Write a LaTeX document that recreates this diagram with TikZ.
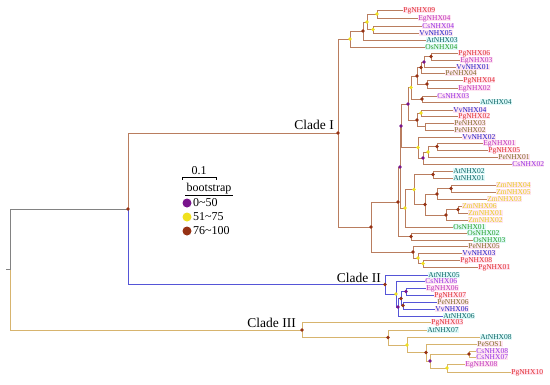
\documentclass[tikz,border=0pt]{standalone}
\usepackage{fontspec}
\setmainfont{Liberation Serif}
\usetikzlibrary{positioning}
\definecolor{pgred}{RGB}{225,45,45}
\definecolor{egmagenta}{RGB}{190,50,190}
\definecolor{csviolet}{RGB}{150,50,230}
\definecolor{vvblue}{RGB}{30,30,200}
\definecolor{atteal}{RGB}{10,100,100}
\definecolor{osgreen}{RGB}{40,160,40}
\definecolor{peolive}{RGB}{130,110,40}
\definecolor{zmyellow}{RGB}{232,208,30}
\definecolor{pinkbg}{RGB}{255,230,242}
\definecolor{cyanbg}{RGB}{225,250,250}
\definecolor{cladeIcol}{RGB}{185,125,95}
\definecolor{cladeIIcol}{RGB}{85,85,215}
\definecolor{cladeIIIcol}{RGB}{215,180,110}
\definecolor{rootgray}{RGB}{130,130,130}
\definecolor{bslow}{RGB}{120,20,140}
\definecolor{bsmid}{RGB}{240,225,30}
\definecolor{bshigh}{RGB}{150,50,20}
\tikzset{
  leaf/.style={anchor=west,inner sep=0.2pt,text height=4.6pt,text depth=0.5pt,text=#1,fill=pinkbg,font=\fontsize{7.5}{8}\selectfont},
  leafc/.style={leaf=#1,fill=cyanbg},
  cladelab/.style={anchor=south east,inner sep=1pt,font=\fontsize{13.5}{15}\selectfont},
  legtext/.style={anchor=west,inner sep=1pt,font=\fontsize{12}{14}\selectfont},
  legdot/.style={circle,fill=#1,inner sep=0pt,minimum size=9pt},
}
\begin{document}
\begin{tikzpicture}[
    x=1pt,y=-1pt,
    brI/.style={draw=cladeIcol,line width=0.6pt},
    brII/.style={draw=cladeIIcol,line width=0.6pt},
    brIII/.style={draw=cladeIIIcol,line width=0.6pt},
    brroot/.style={draw=rootgray,line width=0.6pt},
  ]
    \path[use as bounding box,fill=white] (0,0) rectangle (550,384);

    %────────── LEAVES ─────────────
    \foreach \nm/\x/\y/\col in {PgNHX09/403/10/pgred, EgNHX04/418/18/egmagenta, CsNHX04/422/26/csviolet,
        VvNHX05/419/33/vvblue, PgNHX06/458/53/pgred, EgNHX03/460/60/egmagenta, VvNHX01/456/67/vvblue,
        PeNHX04/445/73/peolive, PgNHX04/463/80/pgred, EgNHX02/458/88/egmagenta, CsNHX03/437/96/csviolet,
        VvNHX04/453/110/vvblue, PgNHX02/458/116/pgred, PeNHX03/454/123/peolive, PeNHX02/454/130/peolive,
        VvNHX02/462/137/vvblue, EgNHX01/483/143/egmagenta, PgNHX05/488/150/pgred, PeNHX01/498/157/peolive,
        CsNHX02/512/164/csviolet, ZmNHX04/496/185/zmyellow, ZmNHX05/496/192/zmyellow, ZmNHX03/487/199/zmyellow,
        ZmNHX06/462/206/zmyellow, ZmNHX01/468/213/zmyellow, ZmNHX02/468/220/zmyellow, PeNHX05/468/246/peolive,
        VvNHX03/462/253/vvblue, PgNHX08/460/260/pgred, PgNHX01/478/267/pgred,
        CsNHX06/425/281/csviolet, EgNHX06/426/288/egmagenta, PgNHX07/434/295/pgred, PeNHX06/437/302/peolive,
        VvNHX06/435/309/vvblue, PgNHX03/431/322/pgred, PeSOS1/477/344/peolive, CsNHX08/476/351/csviolet,
        CsNHX07/476/357/csviolet, EgNHX08/465/364/egmagenta, PgNHX10/511/372/pgred}
      \node[leaf=\col] (\nm) at (\x,\y) {\nm};
    \foreach \nm/\x/\y/\col in {AtNHX03/426/40/atteal, OsNHX04/425/47/osgreen, AtNHX04/480/102/atteal,
        AtNHX02/453/171/atteal, AtNHX01/453/178/atteal, OsNHX01/453/227/osgreen, OsNHX02/467/233/osgreen,
        OsNHX03/473/240/osgreen, AtNHX05/428/275/atteal, AtNHX06/443/316/atteal, AtNHX07/427/330/atteal,
        AtNHX08/480/337/atteal}
      \node[leafc=\col] (\nm) at (\x,\y) {\nm};

    %────────── INNER NODES ────────
    \foreach \nm/\x/\y in {n1a/377/14, n1b/373/29.5, n1c/367/22, n1d/363/31, n1e/350/39,
        n2a/431/56.5, n2b/424/62, n2c/421/67.5, n2d/427/84, n2e/417/76, n2f/422/99, n2g/411/87.5,
        n2h/421/113, n2i/425/126.5, n2j/417/120, n2k/408/104, n2l/437/146.5, n2m/428/152, n2o/423/158,
        n2n/418/147.5, n2p/401/126, n3a/433/174.5, n3b/451/188.5, n3c/437/194, n3d/458/209.5,
        n3e/446/215, n3f/425/204.5, n3g/414/189.5, n3h/405/208, nQ/400/167, n3i/411/236.5, nP/398/202,
        n3l/423/263.5, n3m/418/258, nS/413/252, nT/371/227, cI/338/133,
        c2a/406/291.5, c2b/403/305.5, c2c/401/298.5, c2d/398/307, c2e/396/294, cII/385/284.5,
        z1/469/354, z2/447/368, z3/430/361, z4/426/352.5, y3/407/345, x3/388/337.5, cIII/302/330,
        nA/128/209, root/10/269.5, rootstub/6/269.5}
      \coordinate (\nm) at (\x,\y);

    %────────── CLADE I ────────────
    \foreach \p/\c in {n1a/PgNHX09, n1a/EgNHX04, n1b/CsNHX04, n1b/VvNHX05, n1c/n1a, n1c/n1b,
        n1d/n1c, n1d/AtNHX03, n1e/n1d, n1e/OsNHX04,
        n2a/PgNHX06, n2a/EgNHX03, n2b/n2a, n2b/VvNHX01, n2c/n2b, n2c/PeNHX04, n2d/PgNHX04, n2d/EgNHX02,
        n2e/n2c, n2e/n2d, n2f/CsNHX03, n2f/AtNHX04, n2g/n2e, n2g/n2f, n2h/VvNHX04, n2h/PgNHX02,
        n2i/PeNHX03, n2i/PeNHX02, n2j/n2h, n2j/n2i, n2k/n2g, n2k/n2j, n2l/EgNHX01, n2l/PgNHX05,
        n2m/n2l, n2m/PeNHX01, n2o/n2m, n2o/CsNHX02, n2n/VvNHX02, n2n/n2o, n2p/n2k, n2p/n2n,
        n3a/AtNHX02, n3a/AtNHX01, n3b/ZmNHX04, n3b/ZmNHX05, n3c/n3b, n3c/ZmNHX03, n3d/ZmNHX06,
        n3d/ZmNHX01, n3e/n3d, n3e/ZmNHX02, n3f/n3c, n3f/n3e, n3g/n3a, n3g/n3f, n3h/n3g, n3h/OsNHX01,
        nQ/n2p, nQ/n3h, n3i/OsNHX02, n3i/OsNHX03, nP/nQ, nP/n3i, n3l/PgNHX08, n3l/PgNHX01,
        n3m/VvNHX03, n3m/n3l, nS/PeNHX05, nS/n3m, nT/nP, nT/nS, cI/n1e, cI/nT, nA/cI}
      \draw[brI] (\p) |- (\c);

    %────────── CLADE II ───────────
    \foreach \p/\c in {c2a/EgNHX06, c2a/PgNHX07, c2b/PeNHX06, c2b/VvNHX06, c2c/c2a, c2c/c2b,
        c2d/c2c, c2d/AtNHX06, c2e/CsNHX06, c2e/c2d, cII/AtNHX05, cII/c2e, nA/cII}
      \draw[brII] (\p) |- (\c);

    %────────── CLADE III ──────────
    \foreach \p/\c in {z1/CsNHX08, z1/CsNHX07, z2/EgNHX08, z2/PgNHX10, z3/z1, z3/z2, z4/PeSOS1, z4/z3,
        y3/AtNHX08, y3/z4, x3/AtNHX07, x3/y3, cIII/PgNHX03, cIII/x3, root/cIII}
      \draw[brIII] (\p) |- (\c);

    %────────── ROOT ───────────────
    \draw[brroot] (root) |- (nA);
    \draw[brroot] (rootstub) -- (root);

    %────────── BOOTSTRAP DOTS ─────
    \foreach \n in {n2b, n2k, n2o, n2p, nQ, c2a, c2d, z3}
      \fill[bslow] (\n) circle (1.9);
    \foreach \n in {n1a, n1b, n1c, n1e, n2g, n2h, n2m, n2n, n3g, n3h, n3l, n3m, c2e, z2, y3}
      \fill[bsmid] (\n) circle (1.9);
    \foreach \n in {n1d, n2a, n2c, n2d, n2e, n2f, n2j, n2l, n3a, n3b, n3c, n3d, n3e, n3f, n3i, nP, nS,
        nT, cI, c2b, c2c, cII, z1, z4, x3, cIII, nA}
      \fill[bshigh] (\n) circle (1.9);

    %────────── CLADE LABELS ───────
    \node[cladelab] (labI) at (335,131) {Clade I};
    \node[cladelab] (labII) at (382,283.5) {Clade II};
    \node[cladelab] (labIII) at (297,328.5) {Clade III};

    %────────── LEGEND ─────────────
    \coordinate (sbL) at (182,177);
    \coordinate (sbR) at (216,177);
    \draw[line width=0.6pt] ([yshift=-2.5]sbL) -- (sbL) -- (sbR) -- ([yshift=-2.5]sbR);
    \node[legtext,anchor=south,inner sep=1.5pt] (scale) at (199,176) {0.1};
    \node[legtext,anchor=center] (boot) at (209,189) {bootstrap};
    \draw[line width=0.5pt] (boot.south west) -- (boot.south east);
    \node[legdot=bslow] (legLow) at (187,203) {};
    \node[legdot=bsmid] (legMid) at (187,217) {};
    \node[legdot=bshigh] (legHigh) at (187,231) {};
    \node[legtext,right=0.3pt of legLow] {0\textasciitilde 50};
    \node[legtext,right=0.3pt of legMid] {51\textasciitilde 75};
    \node[legtext,right=0.3pt of legHigh] {76\textasciitilde 100};
  \end{tikzpicture}
\end{document}
